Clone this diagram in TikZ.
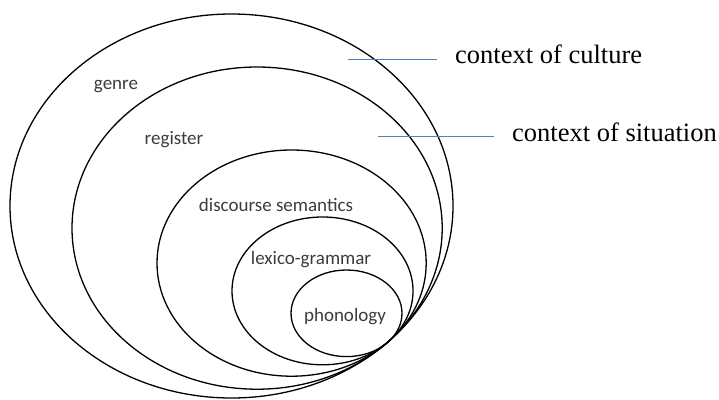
\documentclass[tikz,border=0pt]{standalone}
\usepackage{fontspec}
\setmainfont{Liberation Serif}
\newfontfamily\layerfont{Carlito}
\usepackage{xcolor}
\usepackage{tikz}
\usetikzlibrary{positioning,calc}
\definecolor{CTXblue}{RGB}{79,129,189}
\definecolor{LAYgray}{RGB}{60,60,60}
\tikzstyle{ring}   = [draw=black, line width=1.3pt]
\tikzstyle{Blayer} = [inner sep=0pt, text=LAYgray, font=\layerfont\fontsize{19}{21}\selectfont]
\tikzstyle{Bctx}   = [inner sep=0pt, anchor=base west, font=\fontsize{26.5}{29}\selectfont]
\tikzstyle{ctxline} = [draw=CTXblue, line width=1.2pt, shorten >=18pt]

\begin{document}
\begin{tikzpicture}[x=1pt, y=-1pt]
  \useasboundingbox (0,0) rectangle (719,399);
  \draw[ring] (231.5,206) ellipse [x radius=221.5, y radius=192];
  \draw[ring] (257.1,228.1) ellipse [x radius=185.1, y radius=161.1];
  \draw[ring] (291.6,263.1) ellipse [x radius=134.6, y radius=113.1];
  \draw[ring] (322.5,290.9) ellipse [x radius=90.5, y radius=73.9];
  \draw[ring] (346.5,313.3) ellipse [x radius=55.5, y radius=43.3];
  \node[Blayer] (genre) at (116,87) {genre};
  \node[Blayer] (register) at (174,140) {register};
  \node[Blayer] (discourse) at (276,205) {discourse semantics};
  \node[Blayer] (lexico) at (311,260) {lexico-grammar};
  \node[Blayer] (phono) at (345,317) {phonology};
  \node[Bctx] (culture) at (455,63) {context of culture};
  \node[Bctx] (situation) at (512,141) {context of situation};
  \coordinate (cul) at (348,59.5);
  \coordinate (sit) at (378,136.5);
  \draw[ctxline] (cul) -- (cul -| culture.west);
  \draw[ctxline] (sit) -- (sit -| situation.west);
\end{tikzpicture}
\end{document}
